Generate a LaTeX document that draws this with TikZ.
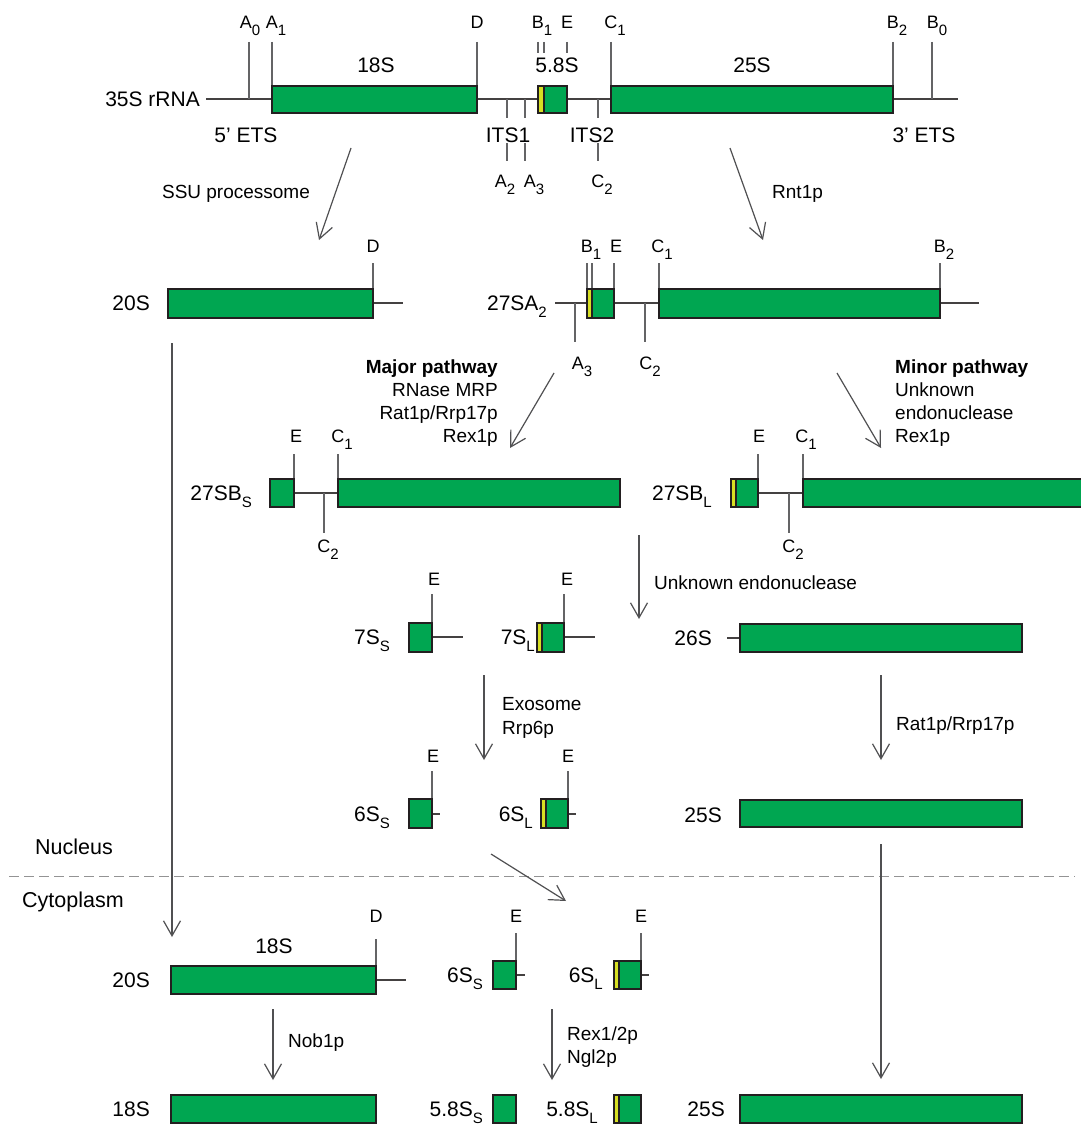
\documentclass[tikz,border=0pt]{standalone}
\usepackage{fontspec}
\setmainfont{Liberation Sans}
\usetikzlibrary{arrows.meta}
\definecolor{rgreen}{RGB}{0,166,81}
\definecolor{ryellow}{RGB}{215,223,35}
\definecolor{rline}{RGB}{35,31,32}
\definecolor{rgray}{RGB}{100,100,102}
\newcommand{\lowsub}[1]{\raisebox{-7pt}{\fontsize{15}{15}\selectfont #1}}
\tikzset{
    rbox/.style={draw=rline, fill=rgreen, line width=1.4pt},
    rstrip/.style={draw=rline, fill=ryellow, line width=1.4pt},
    rna/.style={draw=rline!85, line width=1.3pt},
    cut/.style={draw=rgray, line width=1.2pt},
    proc/.style={draw=rgray!80!black, line width=1.2pt, -{Straight Barb[length=15pt,width=17pt]}},
    lbl/.style={inner sep=0pt, font=\fontsize{19}{23}\selectfont},
    rname/.style={inner sep=0pt, font=\fontsize{21}{25}\selectfont},
    site/.style={inner sep=0pt, anchor=base, font=\fontsize{18}{22}\selectfont}
}

\begin{document}
\begin{tikzpicture}[x=1pt,y=-1pt]
                \clip (0,0) rectangle (1081,1124);
                \fill[white] (0,0) rectangle (1081,1124);

                % 35S precursor
                \draw[rna] (206,99) -- (272,99) (477,99) -- (538,99) (567,99) -- (611,99) (893,99) -- (958,99);
                \foreach \x in {249,932} \draw[cut] (\x,42) -- (\x,99);
                \foreach \x in {272,477,611,893} \draw[cut] (\x,42) -- (\x,86);
                \foreach \x in {538,544,567} \draw[cut] (\x,42) -- (\x,53);
                \foreach \x in {507,525,598} \draw[cut] (\x,99) -- (\x,118) (\x,143) -- (\x,161);
                \draw[rbox] (272,86) rectangle (477,113);
                \draw[rbox] (538,86) rectangle (567,113);
                \draw[rstrip] (538,86) rectangle (544,113);
                \draw[rbox] (611,86) rectangle (893,113);
                \node[rname, anchor=base east] (n35S) at (200,106) {35S rRNA};
                \node[rname, anchor=base] (t18S) at (376,73) {18S};
                \node[rname, anchor=base] (t58S) at (557,72) {5.8S};
                \node[rname, anchor=base] (t25S) at (752,73) {25S};
                \node[rname, anchor=base] (ets5) at (246,142) {5' ETS};
                \node[rname, anchor=base] (its1) at (508,142) {ITS1};
                \node[rname, anchor=base] (its2) at (592,142) {ITS2};
                \node[rname, anchor=base] (ets3) at (924,142) {3' ETS};
                \foreach \x/\t [count=\i] in {250/A\lowsub{0},276/A\lowsub{1},477/D,542/B\lowsub{1},567/E,615/C\lowsub{1},897/B\lowsub{2},937/B\lowsub{0}}
                    \node[site] (a\i) at (\x,29) {\t};
                \foreach \x/\t [count=\i] in {505/A\lowsub{2},534/A\lowsub{3},602/C\lowsub{2}}
                    \node[site] (b\i) at (\x,187) {\t};

                % first cleavages
                \coordinate (ssuA) at (351,148); \coordinate (ssuB) at (319,240);
                \coordinate (rntA) at (730,148); \coordinate (rntB) at (763,240);
                \draw[proc] (ssuA) -- (ssuB);
                \draw[proc] (rntA) -- (rntB);
                \node[lbl, anchor=base] (ssu) at (236,198) {SSU processome};
                \node[lbl, anchor=base west] (rnt) at (772,198) {Rnt1p};

                % 20S and 27SA2
                \draw[rna] (373,303) -- (403,303);
                \draw[cut] (373,263) -- (373,289);
                \draw[rbox] (168,289) rectangle (373,318);
                \node[rname, anchor=base east] (n20S) at (150,310) {20S};
                \node[site] (d2) at (373,252) {D};
                \draw[rna] (555,303) -- (587,303) (614,303) -- (659,303) (940,303) -- (979,303);
                \foreach \x in {587,592,614,659,940} \draw[cut] (\x,263) -- (\x,289);
                \foreach \x in {575,645} \draw[cut] (\x,303) -- (\x,342);
                \draw[rbox] (587,289) rectangle (614,318);
                \draw[rstrip] (587,289) rectangle (592,318);
                \draw[rbox] (659,289) rectangle (940,318);
                \node[rname, anchor=base east] (n27SA) at (547,310) {27SA\lowsub{2}};
                \foreach \x/\t [count=\i] in {591/B\lowsub{1},616/E,662/C\lowsub{1},944/B\lowsub{2}}
                    \node[site] (c\i) at (\x,252) {\t};
                \foreach \x/\t [count=\i] in {582/A\lowsub{3},650/C\lowsub{2}}
                    \node[site] (e\i) at (\x,369) {\t};

                % A3 / B1L cleavage
                \coordinate (majA) at (554,373); \coordinate (majB) at (510,448);
                \coordinate (minA) at (837,373); \coordinate (minB) at (881,448);
                \draw[proc] (majA) -- (majB);
                \draw[proc] (minA) -- (minB);
                \node[lbl, anchor=base east] (maj1) at (498,373) {\bfseries Major pathway};
                \node[lbl, anchor=base east] (maj2) at (498,396) {RNase MRP};
                \node[lbl, anchor=base east] (maj3) at (498,419) {Rat1p/Rrp17p};
                \node[lbl, anchor=base east] (maj4) at (498,442) {Rex1p};
                \node[lbl, anchor=base west] (min1) at (895,373) {\bfseries Minor pathway};
                \node[lbl, anchor=base west] (min2) at (895,396) {Unknown};
                \node[lbl, anchor=base west] (min3) at (895,419) {endonuclease};
                \node[lbl, anchor=base west] (min4) at (895,442) {Rex1p};

                % 27SB
                \draw[rna] (294,493) -- (338,493) (758,493) -- (803,493);
                \foreach \x in {294,338,758,803} \draw[cut] (\x,454) -- (\x,479);
                \foreach \x in {324,789} \draw[cut] (\x,493) -- (\x,533);
                \draw[rbox] (270,479) rectangle (294,507);
                \draw[rbox] (338,479) rectangle (620,507);
                \draw[rbox] (731,479) rectangle (758,507);
                \draw[rstrip] (731,479) rectangle (736,507);
                \draw[rbox] (803,479) rectangle (1095,507);
                \node[rname, anchor=base east] (n27SBs) at (252,500) {27SB\lowsub{S}};
                \node[rname, anchor=base east] (n27SBl) at (712,500) {27SB\lowsub{L}};
                \foreach \x/\t [count=\i] in {296/E,342/C\lowsub{1},759/E,806/C\lowsub{1}}
                    \node[site] (f\i) at (\x,442) {\t};
                \foreach \x/\t [count=\i] in {328/C\lowsub{2},793/C\lowsub{2}}
                    \node[site] (g\i) at (\x,552) {\t};

                % C2 cleavage
                \coordinate (unkA) at (639,535); \coordinate (unkB) at (639,619);
                \draw[proc] (unkA) -- (unkB);
                \node[lbl, anchor=base west] (unk) at (654,589) {Unknown endonuclease};

                % 7S and 26S
                \draw[rna] (432,637) -- (463,637) (564,637) -- (595,637) (727,638) -- (740,638);
                \foreach \x in {432,564} \draw[cut] (\x,594) -- (\x,623);
                \draw[rbox] (409,623) rectangle (432,652);
                \draw[rbox] (537,623) rectangle (564,652);
                \draw[rstrip] (537,623) rectangle (542,652);
                \draw[rbox] (740,624) rectangle (1022,652);
                \node[rname, anchor=base east] (n7Ss) at (390,644) {7S\lowsub{S}};
                \node[rname, anchor=base east] (n7Sl) at (535,644) {7S\lowsub{L}};
                \node[rname, anchor=base east] (n26S) at (712,645) {26S};
                \node[site] (h1) at (434,585) {E};
                \node[site] (h2) at (567,585) {E};

                % trimming
                \coordinate (exoA) at (484,675); \coordinate (exoB) at (484,760);
                \coordinate (ratA) at (881,675); \coordinate (ratB) at (881,760);
                \draw[proc] (exoA) -- (exoB);
                \draw[proc] (ratA) -- (ratB);
                \node[lbl, anchor=base west] (exo1) at (502,710) {Exosome};
                \node[lbl, anchor=base west] (exo2) at (502,734) {Rrp6p};
                \node[lbl, anchor=base west] (rat) at (896,730) {Rat1p/Rrp17p};

                % 6S and 25S
                \draw[rna] (432,814) -- (440,814) (568,814) -- (576,814);
                \foreach \x in {432,568} \draw[cut] (\x,771) -- (\x,799);
                \draw[rbox] (409,799) rectangle (432,828);
                \draw[rbox] (541,799) rectangle (568,828);
                \draw[rstrip] (541,799) rectangle (546,828);
                \draw[rbox] (740,800) rectangle (1022,827);
                \node[rname, anchor=base east] (n6Ss) at (390,821) {6S\lowsub{S}};
                \node[rname, anchor=base east] (n6Sl) at (533,821) {6S\lowsub{L}};
                \node[rname, anchor=base east] (n25S) at (722,822) {25S};
                \node[site] (k1) at (433,762) {E};
                \node[site] (k2) at (568,762) {E};

                % nuclear envelope
                \draw[rgray!70, line width=1pt, dash pattern=on 10pt off 5pt] (9,876) -- (1075,876);
                \node[rname, anchor=base west, font=\fontsize{21.5}{25}\selectfont] (nuc) at (35,854) {Nucleus};
                \node[rname, anchor=base west, font=\fontsize{21.5}{25}\selectfont] (cyt) at (22,907) {Cytoplasm};
                \coordinate (lftA) at (172,343); \coordinate (lftB) at (172,937);
                \coordinate (expA) at (491,854); \coordinate (expB) at (566,901);
                \coordinate (rgtA) at (881,844); \coordinate (rgtB) at (881,1079);
                \draw[proc] (lftA) -- (lftB);
                \draw[proc] (expA) -- (expB);
                \draw[proc] (rgtA) -- (rgtB);

                % cytoplasmic precursors
                \draw[rna] (376,980) -- (406,980) (516,975) -- (525,975) (641,975) -- (649,975);
                \draw[cut] (376,939) -- (376,966);
                \foreach \x in {516,641} \draw[cut] (\x,933) -- (\x,961);
                \draw[rbox] (171,966) rectangle (376,994);
                \draw[rbox] (493,961) rectangle (516,989);
                \draw[rbox] (614,961) rectangle (641,989);
                \draw[rstrip] (614,961) rectangle (619,989);
                \node[rname, anchor=base east] (c20S) at (150,987) {20S};
                \node[rname, anchor=base east] (c6Ss) at (483,982) {6S\lowsub{S}};
                \node[rname, anchor=base east] (c6Sl) at (603,982) {6S\lowsub{L}};
                \node[rname, anchor=base] (c18S) at (274,953) {18S};
                \node[site] (m1) at (376,922) {D};
                \node[site] (m2) at (516,922) {E};
                \node[site] (m3) at (641,922) {E};

                % final processing
                \coordinate (nobA) at (273,1009); \coordinate (nobB) at (273,1080);
                \coordinate (rexA) at (552,1009); \coordinate (rexB) at (552,1080);
                \draw[proc] (nobA) -- (nobB);
                \draw[proc] (rexA) -- (rexB);
                \node[lbl, anchor=base west] (nob) at (288,1047) {Nob1p};
                \node[lbl, anchor=base west] (rex1) at (567,1040) {Rex1/2p};
                \node[lbl, anchor=base west] (rex2) at (567,1063) {Ngl2p};

                % mature rRNAs
                \draw[rbox] (171,1095) rectangle (376,1123);
                \draw[rbox] (493,1095) rectangle (516,1123);
                \draw[rbox] (614,1095) rectangle (641,1123);
                \draw[rstrip] (614,1095) rectangle (619,1123);
                \draw[rbox] (740,1095) rectangle (1022,1123);
                \node[rname, anchor=base east] (f18S) at (150,1116) {18S};
                \node[rname, anchor=base east] (f58Ss) at (483,1116) {5.8S\lowsub{S}};
                \node[rname, anchor=base east] (f58Sl) at (598,1116) {5.8S\lowsub{L}};
                \node[rname, anchor=base east] (f25S) at (725,1116) {25S};
\end{tikzpicture}
\end{document}
